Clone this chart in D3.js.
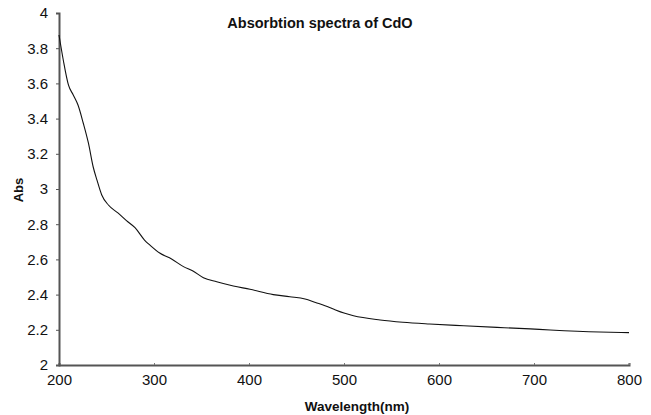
<!DOCTYPE html>
<html><head><meta charset="utf-8">
<script src="https://cdn.jsdelivr.net/npm/d3@7"></script>
<style>
html,body{margin:0;padding:0;background:#fff;}
svg{display:block;font-family:Arial,"Liberation Sans",sans-serif;}
</style></head>
<body><svg id="c" width="651" height="415"></svg>
<script>
const wavelength = [200, 204.5, 210, 215, 220, 225.5, 231, 236, 240, 245, 252, 262, 271, 280, 290, 296, 306, 318.5, 331, 341, 352, 366, 383.5, 401, 425.5, 443, 459, 470, 480, 490, 500, 510, 538, 562, 590, 626, 661, 696, 717, 769, 800];
const absorbance = [3.875, 3.733, 3.59, 3.534, 3.477, 3.375, 3.26, 3.125, 3.05, 2.966, 2.909, 2.864, 2.82, 2.78, 2.71, 2.68, 2.636, 2.602, 2.559, 2.534, 2.496, 2.473, 2.449, 2.43, 2.40, 2.388, 2.375, 2.355, 2.337, 2.315, 2.295, 2.28, 2.256, 2.243, 2.233, 2.223, 2.214, 2.205, 2.199, 2.1875, 2.184];
const xTicks = [200, 300, 400, 500, 600, 700, 800];
const yTicks = [2, 2.2, 2.4, 2.6, 2.8, 3, 3.2, 3.4, 3.6, 3.8, 4];
const title = "Absorbtion spectra of CdO";
const xLabel = "Wavelength(nm)";
const yLabel = "Abs";

const svg = d3.select("#c");
const L = 59, R = 629, T = 13, B = 365;
const x = d3.scaleLinear().domain([200, 800]).range([L, R]);
const y = d3.scaleLinear().domain([2, 4]).range([B, T]);

// x axis
const xa = svg.append("g").attr("transform", `translate(0,${B})`)
  .call(d3.axisBottom(x).tickValues(xTicks).tickSize(-2).tickPadding(9).tickFormat(d3.format("d")));
xa.select(".domain").attr("stroke", "#555").attr("stroke-width", 2);
xa.selectAll(".tick line").attr("stroke", "#777");
xa.selectAll("text").attr("font-size", 15).attr("fill", "#111").attr("font-family", "Arial, 'Liberation Sans', sans-serif");

// y axis
const ya = svg.append("g").attr("transform", `translate(${L},0)`)
  .call(d3.axisLeft(y).tickValues(yTicks).tickSize(3).tickPadding(8).tickFormat(d => String(+d.toFixed(1))));
ya.select(".domain").attr("stroke", "#555").attr("stroke-width", 2);
ya.selectAll(".tick line").attr("stroke", "#555");
ya.selectAll("text").attr("font-size", 15).attr("fill", "#111").attr("font-family", "Arial, 'Liberation Sans', sans-serif");

// curve
const pts = wavelength.map((w, i) => [w, absorbance[i]]);
svg.append("path").datum(pts)
  .attr("fill", "none").attr("stroke", "#111").attr("stroke-width", 1.1)
  .attr("d", d3.line().x(d => x(d[0])).y(d => y(d[1])).curve(d3.curveMonotoneX));

// title
svg.append("text").attr("x", 320).attr("y", 28).attr("text-anchor", "middle")
  .attr("font-size", 14.5).attr("font-weight", "bold").attr("fill", "#111").text(title);
// x label
svg.append("text").attr("x", 357).attr("y", 411).attr("text-anchor", "middle")
  .attr("font-size", 13.5).attr("font-weight", "bold").attr("fill", "#111").text(xLabel);
// y label
svg.append("text").attr("transform", "translate(23,190) rotate(-90)").attr("text-anchor", "middle")
  .attr("font-size", 13).attr("font-weight", "bold").attr("fill", "#111").text(yLabel);
</script></body></html>
